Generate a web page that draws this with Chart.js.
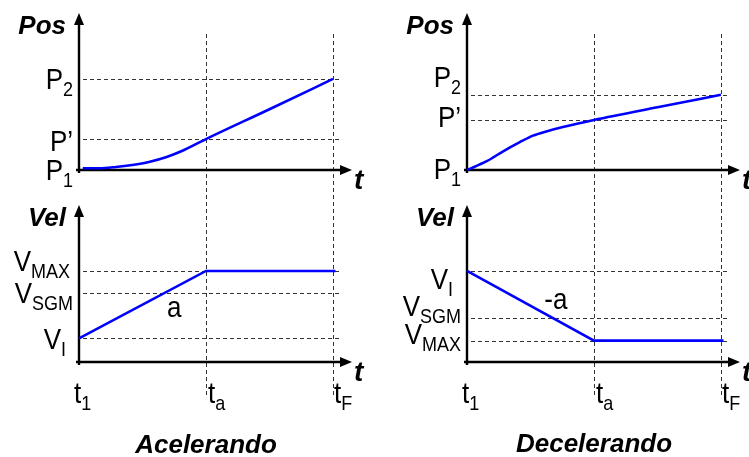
<!DOCTYPE html>
<html>
<head>
<meta charset="utf-8">
<script src="https://cdn.jsdelivr.net/npm/chart.js@4/dist/chart.umd.min.js"></script>
<style>
  html, body { margin: 0; padding: 0; background: #fff; }
  #wrap { position: relative; width: 749px; height: 457px; overflow: hidden; }
  canvas { position: absolute; }
</style>
</head>
<body>
<div id="wrap">
  <canvas id="accelPos" width="374" height="195" style="left:0;top:0"></canvas>
  <canvas id="accelVel" width="374" height="262" style="left:0;top:195px"></canvas>
  <canvas id="decelPos" width="375" height="195" style="left:374px;top:0"></canvas>
  <canvas id="decelVel" width="375" height="262" style="left:374px;top:195px"></canvas>
</div>
<script>
// time axis: t1, ta, tF
const timeTicks = [0, 1, 2];
const timeNames = [["t", "1"], ["t", "a"], ["t", "F"]];

// Acelerando - position
const accelPosT = [0.03, 0.16, 0.29, 0.42, 0.55, 0.69, 0.81, 1.0, 1.5, 2.0];
const accelPosP = [0.11, 0.11, 0.19, 0.32, 0.51, 0.83, 1.21, 1.97, 3.87, 5.8];
const accelPosLevels = [0, 1.97, 5.8];
const accelPosNames = [["P", "1"], ["P\u2019", ""], ["P", "2"]];

// Acelerando - velocity
const accelVelT = [0, 1, 2.02];
const accelVelV = [1.5, 5.8, 5.8];
const accelVelLevels = [1.5, 4.41, 5.8];
const accelVelNames = [["V", "I"], ["V", "SGM"], ["V", "MAX"]];

// Decelerando - position
const decelPosT = [0, 0.155, 0.285, 0.416, 0.52, 0.625, 0.755, 1.0, 1.5, 2.0];
const decelPosP = [0, 0.56, 1.19, 1.77, 2.19, 2.46, 2.74, 3.19, 4.0, 4.79];
const decelPosLevels = [0, 3.19, 4.79];
const decelPosNames = [["P", "1"], ["P\u2019", ""], ["P", "2"]];

// Decelerando - velocity
const decelVelT = [0, 1, 2.02];
const decelVelV = [5.81, 1.36, 1.36];
const decelVelLevels = [5.81, 2.83, 1.36];
const decelVelNames = [["V", "I"], ["V", "SGM"], ["V", "MAX"]];

const FONT = '"Liberation Sans", Arial, Helvetica, sans-serif';
const BLUE = "rgb(0,0,255)";

// label with subscript, slightly stretched vertically like the original
function subText(ctx, x, baseline, main, sub, align) {
    ctx.save();
    ctx.font = "26px " + FONT;
    const wMain = ctx.measureText(main).width;
    ctx.font = "18px " + FONT;
    const wSub = sub ? ctx.measureText(sub).width : 0;
    const x0 = align === "right" ? x - wMain - wSub : x;
    ctx.translate(x0, baseline);
    ctx.scale(1, 1.12);
    ctx.textAlign = "left";
    ctx.textBaseline = "alphabetic";
    ctx.fillStyle = "#000";
    ctx.font = "26px " + FONT;
    ctx.fillText(main, 0, 0);
    if (sub) {
        ctx.font = "18px " + FONT;
        ctx.fillText(sub, wMain, 6);
    }
    ctx.restore();
}

const sketchPlugin = {
    id: "sketch",

    beforeDatasetsDraw(chart, args, o) {
        const { ctx, chartArea: a, scales: { x, y } } = chart;
        ctx.save();

        /* dashed guides */
        ctx.strokeStyle = "#333";
        ctx.lineWidth = 1;
        ctx.setLineDash([4, 3]);
        timeTicks.slice(1).forEach(t => {
            const px = Math.round(x.getPixelForValue(t)) + 0.5;
            ctx.beginPath();
            ctx.moveTo(px, o.vTop);
            ctx.lineTo(px, o.vBottom);
            ctx.stroke();
        });
        const xEnd = x.getPixelForValue(timeTicks[2]) + 7;
        o.levels.forEach(v => {
            if (v <= 0) return;
            const py = Math.round(y.getPixelForValue(v)) + 0.5;
            ctx.beginPath();
            ctx.moveTo(a.left + 4, py);
            ctx.lineTo(xEnd, py);
            ctx.stroke();
        });

        /* axes with arrows */
        ctx.setLineDash([]);
        ctx.strokeStyle = "#000";
        ctx.fillStyle = "#000";
        ctx.lineWidth = 2.4;
        ctx.beginPath();
        ctx.moveTo(a.left, a.bottom + 3);
        ctx.lineTo(a.left, a.top + 10);
        ctx.moveTo(a.left - 3, a.bottom);
        ctx.lineTo(a.right - 10, a.bottom);
        ctx.stroke();
        ctx.beginPath();
        ctx.moveTo(a.left, a.top);
        ctx.lineTo(a.left - 5, a.top + 12);
        ctx.lineTo(a.left + 5, a.top + 12);
        ctx.closePath();
        ctx.fill();
        ctx.beginPath();
        ctx.moveTo(a.right, a.bottom);
        ctx.lineTo(a.right - 12, a.bottom - 5);
        ctx.lineTo(a.right - 12, a.bottom + 5);
        ctx.closePath();
        ctx.fill();

        ctx.restore();
    },

    afterDatasetsDraw(chart, args, o) {
        const { ctx, chartArea: a, scales: { x, y } } = chart;
        ctx.save();
        ctx.fillStyle = "#000";

        /* axis names */
        ctx.font = "italic bold 26px " + FONT;
        ctx.textBaseline = "alphabetic";
        ctx.textAlign = "right";
        ctx.fillText(o.yName, a.left - 13, a.top + 21);
        ctx.textAlign = "left";
        ctx.font = "italic bold 28px " + FONT;
        ctx.fillText("t", a.right + 2, a.bottom + 19);

        /* level labels */
        o.levels.forEach((v, i) => {
            const [dx, dy] = o.levelNudge[i];
            const [main, sub] = o.levelNames[i];
            subText(ctx, a.left - 6 + dx, y.getPixelForValue(v) + 10.4 + dy, main, sub, "right");
        });

        /* time labels */
        if (o.showTime) {
            timeTicks.forEach((t, i) => {
                const [main, sub] = timeNames[i];
                subText(ctx, x.getPixelForValue(t) + o.timeNudge[i], a.bottom + 41, main, sub, "left");
            });
        }

        /* slope note */
        if (o.note) {
            ctx.save();
            ctx.translate(x.getPixelForValue(o.note.t), y.getPixelForValue(o.note.v));
            ctx.scale(1, 1.12);
            ctx.font = "26px " + FONT;
            ctx.textAlign = "center";
            ctx.textBaseline = "middle";
            ctx.fillText(o.note.text, 0, 0);
            ctx.restore();
        }

        /* panel title */
        if (o.title) {
            ctx.font = "italic bold 26px " + FONT;
            ctx.textAlign = "center";
            ctx.fillText(o.title.text, o.title.x, o.title.y);
        }

        ctx.restore();
    }
};

function makePanel(id, ts, vals, smooth, pad, sketch) {
    return new Chart(document.getElementById(id), {
        type: "line",
        data: {
            datasets: [{
                data: ts.map((t, i) => ({ x: t, y: vals[i] })),
                borderColor: BLUE,
                borderWidth: 2.6,
                pointRadius: 0,
                fill: false,
                clip: false,
                cubicInterpolationMode: smooth ? "monotone" : "default",
                tension: 0
            }]
        },
        options: {
            responsive: false,
            animation: false,
            events: [],
            layout: { padding: pad },
            scales: {
                x: { type: "linear", min: 0, max: 2.15, display: false },
                y: { min: 0, max: 10, display: false }
            },
            plugins: {
                legend: { display: false },
                tooltip: { enabled: false },
                sketch: sketch
            }
        },
        plugins: [sketchPlugin]
    });
}

const padTopLeft = { left: 79, right: 22, top: 13, bottom: 25 };
const padBotLeft = { left: 79, right: 22, top: 10, bottom: 95 };
const padTopRight = { left: 93, right: 9, top: 13, bottom: 25 };
const padBotRight = { left: 93, right: 9, top: 10, bottom: 95 };

makePanel("accelPos", accelPosT, accelPosP, true, padTopLeft, {
    yName: "Pos", levels: accelPosLevels, levelNames: accelPosNames,
    levelNudge: [[0, 0], [0, 2], [0, 0]],
    vTop: 34, vBottom: 195
});

makePanel("accelVel", accelVelT, accelVelV, false, padBotLeft, {
    yName: "Vel", levels: accelVelLevels, levelNames: accelVelNames,
    levelNudge: [[-7, 0], [0, 0], [-3, -10]],
    vTop: 0, vBottom: 201,
    showTime: true, timeNudge: [-5, 2, 1],
    note: { text: "a", t: 0.75, v: 3.38 },
    title: { text: "Acelerando", x: 206, y: 258 }
});

makePanel("decelPos", decelPosT, decelPosP, true, padTopRight, {
    yName: "Pos", levels: decelPosLevels, levelNames: decelPosNames,
    levelNudge: [[0, -1], [0, -3], [0, -18]],
    vTop: 34, vBottom: 195
});

makePanel("decelVel", decelVelT, decelVelV, false, padBotRight, {
    yName: "Vel", levels: decelVelLevels, levelNames: decelVelNames,
    levelNudge: [[-8, 8], [0, -12], [0, -7]],
    vTop: 0, vBottom: 201,
    showTime: true, timeNudge: [-5, 2, 1],
    note: { text: "-a", t: 0.70, v: 3.91 },
    title: { text: "Decelerando", x: 220, y: 257 }
});
</script>
</body>
</html>
